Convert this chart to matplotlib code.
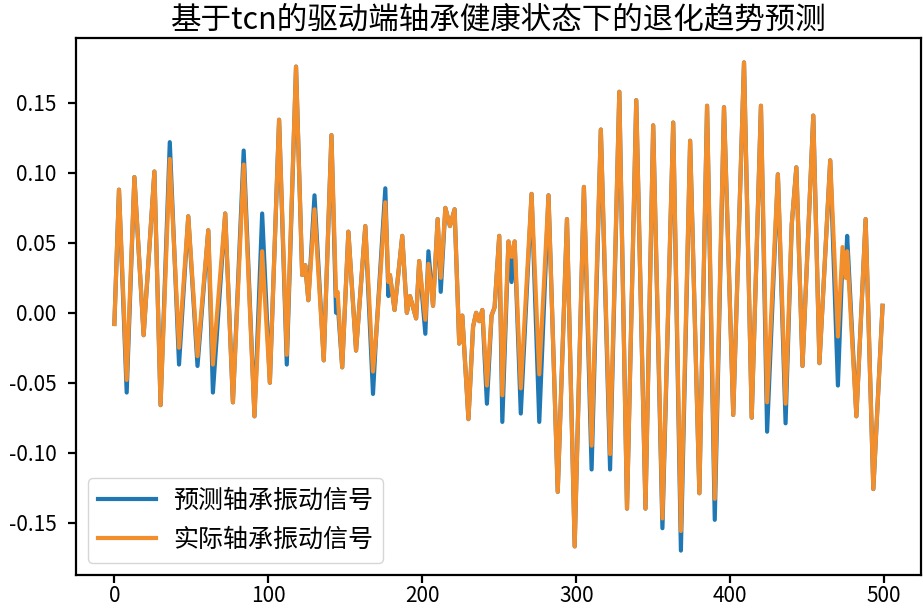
import numpy as np
import matplotlib
matplotlib.use("Agg")
import matplotlib.pyplot as plt

plt.rcParams['font.family'] = ['Noto Sans CJK SC', 'DejaVu Sans']
plt.rcParams['axes.unicode_minus'] = False

# turning points of the signals (sample index, amplitude)
sample_idx = [0, 3, 8, 13, 19, 26, 30, 36, 42, 48, 54, 61, 64, 72, 77, 84, 91, 96, 101, 107,
              112, 118, 122, 124, 126, 130, 136, 141, 144, 145, 148, 152, 157, 163, 168, 170, 176, 178, 179, 182,
              187, 190, 192, 194, 196, 198, 202, 204, 207, 210, 212, 215, 218, 221, 224, 226, 230, 233, 235, 237,
              239, 242, 245, 247, 250, 252, 256, 258, 260, 264, 271, 276, 282, 288, 294, 299, 305, 310, 316, 322,
              328, 333, 339, 345, 350, 356, 363, 368, 374, 380, 385, 390, 396, 402, 409, 414, 420, 424, 431, 436,
              440, 443, 447, 454, 458, 465, 470, 473, 475, 476, 482, 488, 493, 499]

actual = [-0.008, 0.088, -0.048, 0.097, -0.016, 0.101, -0.066, 0.110, -0.025, 0.069, -0.031, 0.059, -0.037, 0.071, -0.064, 0.106, -0.074, 0.044, -0.050, 0.138,
          -0.030, 0.176, 0.027, 0.034, 0.009, 0.074, -0.034, 0.127, 0.012, 0.015, -0.039, 0.058, -0.027, 0.062, -0.042, -0.017, 0.079, 0.022, 0.027, 0.002,
          0.055, 0.000, 0.012, 0.004, -0.004, 0.037, -0.005, 0.035, 0.005, 0.067, 0.025, 0.075, 0.062, 0.074, -0.022, -0.002, -0.076, -0.010, 0.000, -0.006,
          0.002, -0.052, -0.002, 0.004, 0.055, -0.059, 0.051, 0.040, 0.051, -0.054, 0.085, -0.044, 0.084, -0.128, 0.067, -0.167, 0.090, -0.095, 0.131, -0.101,
          0.158, -0.140, 0.152, -0.140, 0.134, -0.147, 0.136, -0.156, 0.123, -0.129, 0.148, -0.133, 0.147, -0.073, 0.179, -0.075, 0.148, -0.064, 0.099, -0.065,
          0.063, 0.104, -0.038, 0.141, -0.036, 0.109, -0.017, 0.047, 0.025, 0.044, -0.074, 0.067, -0.126, 0.005]

predicted = [-0.008, 0.088, -0.057, 0.097, -0.016, 0.101, -0.066, 0.122, -0.037, 0.069, -0.038, 0.059, -0.057, 0.071, -0.064, 0.116, -0.074, 0.071, -0.050, 0.138,
             -0.037, 0.176, 0.027, 0.034, 0.009, 0.084, -0.034, 0.127, 0.000, 0.008, -0.039, 0.058, -0.027, 0.062, -0.058, -0.017, 0.089, 0.012, 0.027, 0.002,
             0.055, 0.000, 0.012, 0.004, -0.004, 0.037, -0.015, 0.044, 0.005, 0.067, 0.015, 0.075, 0.062, 0.074, -0.022, -0.002, -0.076, -0.010, 0.000, -0.006,
             0.002, -0.065, -0.002, 0.004, 0.055, -0.078, 0.051, 0.022, 0.051, -0.072, 0.085, -0.078, 0.084, -0.128, 0.067, -0.167, 0.090, -0.112, 0.131, -0.112,
             0.158, -0.140, 0.152, -0.140, 0.134, -0.154, 0.136, -0.170, 0.123, -0.129, 0.148, -0.148, 0.147, -0.073, 0.179, -0.075, 0.148, -0.085, 0.099, -0.079,
             0.063, 0.104, -0.038, 0.141, -0.036, 0.109, -0.052, 0.040, 0.030, 0.055, -0.074, 0.067, -0.126, 0.005]

fig = plt.figure(figsize=(9.23, 6.09), dpi=100)
ax = fig.add_axes([0.0823, 0.0558, 0.9155, 0.8818])

ax.plot(sample_idx, predicted, color='#1f77b4', lw=3, label='预测轴承振动信号')
ax.plot(sample_idx, actual, color='#f28e2b', lw=3, label='实际轴承振动信号')

ax.set_title('基于tcn的驱动端轴承健康状态下的退化趋势预测', fontsize=22, pad=7)
ax.tick_params(labelsize=15, width=1.6, length=6)
ax.tick_params(axis='y', pad=8)
ax.tick_params(axis='x', pad=1)
for sp in ax.spines.values():
    sp.set_linewidth(1.6)

ax.legend(loc='lower left', fontsize=18, handlelength=2.3, handletextpad=0.7)

fig.savefig('out.png', dpi=100)
